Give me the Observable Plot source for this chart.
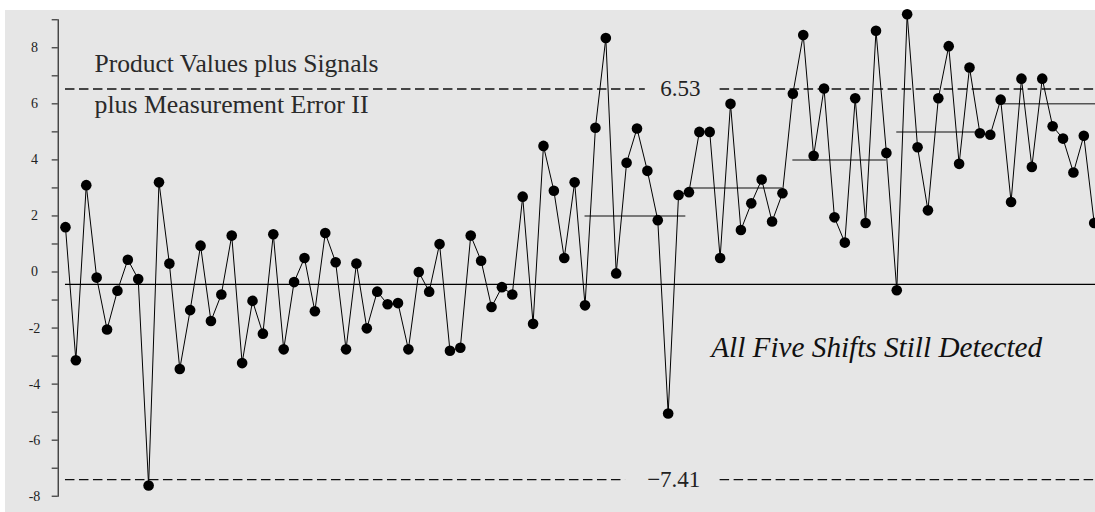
<!DOCTYPE html>
<html>
<head>
<meta charset="utf-8">
<script src="https://cdn.jsdelivr.net/npm/d3@7"></script>
<script src="https://cdn.jsdelivr.net/npm/@observablehq/plot@0.6"></script>
<style>
  body { margin: 0; background: #fff; }
  #chart svg { display: block; }
  #chart svg text { font-family: "Liberation Serif", "DejaVu Serif", serif; }
</style>
</head>
<body>
<div id="chart"></div>
<script>
// Observed values (subgroups 1..100)
const values = [
  1.60, -3.15, 3.10, -0.20, -2.05, -0.67, 0.44, -0.25, -7.62, 3.20,
  0.30, -3.46, -1.36, 0.94, -1.75, -0.80, 1.30, -3.25, -1.03, -2.20,
  1.35, -2.76, -0.36, 0.50, -1.40, 1.39, 0.35, -2.76, 0.30, -2.01,
  -0.70, -1.15, -1.11, -2.76, 0.00, -0.70, 1.00, -2.81, -2.70, 1.30,
  0.40, -1.25, -0.54, -0.80, 2.69, -1.85, 4.50, 2.90, 0.50, 3.20,
  -1.19, 5.15, 8.35, -0.05, 3.90, 5.12, 3.61, 1.85, -5.05, 2.75,
  2.85, 5.00, 5.00, 0.50, 6.00, 1.50, 2.45, 3.30, 1.80, 2.81,
  6.36, 8.46, 4.15, 6.55, 1.95, 1.05, 6.20, 1.75, 8.61, 4.25,
  -0.65, 9.20, 4.45, 2.20, 6.20, 8.06, 3.86, 7.30, 4.95, 4.90,
  6.15, 2.50, 6.90, 3.75, 6.90, 5.20, 4.76, 3.55, 4.86, 1.75
];

// Control limits and central line
const ucl = 6.53;
const lcl = -7.41;
const centerLine = -0.44;
const limitLabels = ["6.53", "\u22127.41"];

// Shift levels (signals) and the subgroup spans they cover
const shiftLevels = [2, 3, 4, 5, 6];
const shiftStart = [50, 60, 70, 80, 90];
const shiftEnd = [59.7, 69, 79, 88, 99.125];

// Axis ticks
const yTicks = [-8, -7, -6, -5, -4, -3, -2, -1, 0, 1, 2, 3, 4, 5, 6, 7, 8, 9];
const yTickLabels = [-8, -6, -4, -2, 0, 2, 4, 6, 8];

const titleLines = ["Product Values plus Signals", "plus Measurement Error II"];
const note = "All Five Shifts Still Detected";

const xMin = -0.7, xMax = 99.125;

const points = values.map((v, i) => ({ i, v }));
const shifts = shiftLevels.map((lvl, k) => ({ x1: shiftStart[k], x2: shiftEnd[k], y: lvl }));
const limitSegs = [
  { y: ucl, x1: 0, x2: 55.8 }, { y: ucl, x1: 63.0, x2: xMax },
  { y: lcl, x1: 0, x2: 53.9 }, { y: lcl, x1: 63.0, x2: xMax }
];
const limits = [{ y: ucl, t: limitLabels[0] }, { y: lcl, t: limitLabels[1] }];

const serif = "Liberation Serif";

const chart = Plot.plot({
  width: 1095,
  height: 512,
  marginLeft: 57.7,
  marginRight: 0,
  marginTop: 19.3,
  marginBottom: 16.3,
  x: { domain: [xMin, xMax], axis: null },
  y: { domain: [-8, 9], axis: null },
  style: { fontFamily: serif, background: "transparent", overflow: "visible" },
  marks: [
    Plot.frame({ anchor: "left", stroke: "#111", strokeWidth: 1.1 }),
    Plot.axisY(yTicks, {
      anchor: "left",
      tickSize: 6,
      tickPadding: 17.7,
      textAnchor: "middle",
      fontSize: 14,
      fontFamily: serif,
      fill: "#222",
      stroke: "#111",
      tickFormat: d => (yTickLabels.includes(d) ? String(d) : ""),
      label: null
    }),
    Plot.ruleY(limitSegs, { y: "y", x1: "x1", x2: "x2", stroke: "#111", strokeWidth: 1.3, strokeDasharray: "9.5,4.5" }),
    Plot.text(limits, { y: "y", x: 61.1, text: "t", textAnchor: "end", lineAnchor: "middle", fontSize: 23, fontFamily: serif, fill: "#222" }),
    Plot.ruleY([centerLine], { x1: 0, x2: xMax, stroke: "#000", strokeWidth: 1.3 }),
    Plot.ruleY(shifts, { y: "y", x1: "x1", x2: "x2", stroke: "#555", strokeWidth: 1.5 }),
    Plot.line(points, { x: "i", y: "v", stroke: "#000", strokeWidth: 1 }),
    Plot.dot(points, { x: "i", y: "v", r: 5.3, fill: "#000", stroke: "none" }),
    Plot.text([titleLines[0]], { text: d => d, frameAnchor: "top-left", dx: 36.3, dy: 51.7, textAnchor: "start", lineAnchor: "bottom", fontSize: 26, fontFamily: serif, fill: "#2a2a2a" }),
    Plot.text([titleLines[1]], { text: d => d, frameAnchor: "top-left", dx: 36.3, dy: 93.2, textAnchor: "start", lineAnchor: "bottom", fontSize: 26, fontFamily: serif, fill: "#2a2a2a" }),
    Plot.text([note], { text: d => d, frameAnchor: "top-left", dx: 653, dy: 337.4, textAnchor: "start", lineAnchor: "bottom", fontSize: 29, fontFamily: serif, fontStyle: "italic", fill: "#111" })
  ]
});

// Gray panel behind everything
const svg = d3.select(chart);
svg.insert("rect", ":first-child")
  .attr("x", 5).attr("y", 10).attr("width", 1090).attr("height", 502)
  .attr("fill", "#e6e6e6");

// Fit text widths to the reference's narrower typeface
const widths = new Map([[titleLines[0], 284], [titleLines[1], 274], [note, 331]]);
svg.selectAll("text").each(function () {
  const w = widths.get(this.textContent);
  if (w) {
    this.setAttribute("textLength", w);
    this.setAttribute("lengthAdjust", "spacingAndGlyphs");
  }
});

document.getElementById("chart").appendChild(chart);
</script>
</body>
</html>
